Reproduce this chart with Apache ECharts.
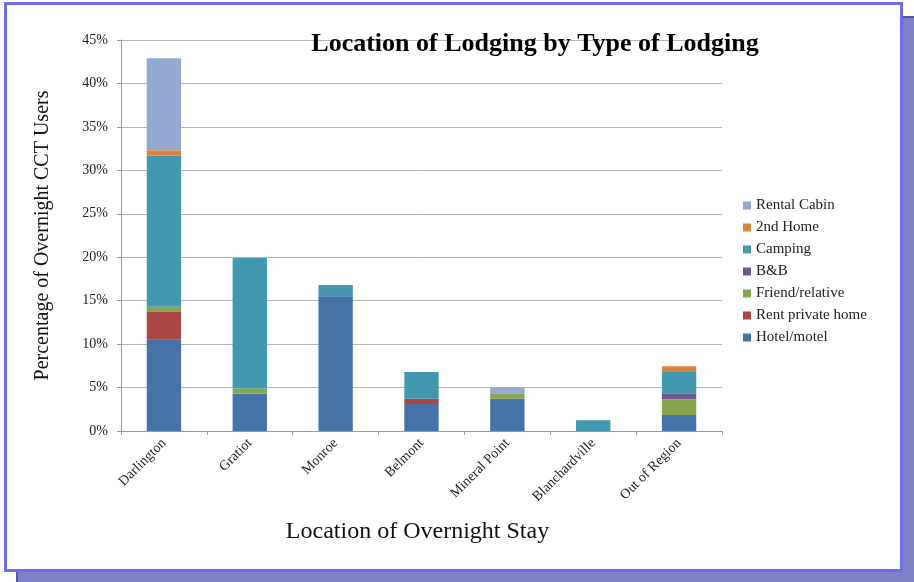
<!DOCTYPE html>
<html>
<head>
<meta charset="utf-8">
<script src="https://cdn.jsdelivr.net/npm/echarts@6/dist/echarts.min.js"></script>
<style>html,body{margin:0;padding:0;background:#fff}#c{width:914px;height:582px}</style>
</head>
<body>
<div id="c"></div>
<script>
const categories = ['Darlington','Gratiot','Monroe','Belmont','Mineral Point','Blanchardville','Out of Region'];
const hotelMotel = [10.5, 4.3, 15.5, 3.1, 3.7, 0, 1.85];
const rentPrivateHome = [3.2, 0, 0, 0.6, 0, 0, 0];
const friendRelative = [0.6, 0.6, 0, 0, 0.65, 0, 1.8];
const bAndB = [0, 0, 0, 0, 0, 0, 0.7];
const camping = [17.4, 15.0, 1.3, 3.1, 0, 1.23, 2.45];
const secondHome = [0.6, 0, 0, 0, 0, 0, 0.65];
const rentalCabin = [10.6, 0, 0, 0, 0.65, 0, 0];
const yTicks = {min: 0, max: 45, interval: 5};

const seriesDefs = [
  ['Hotel/motel', hotelMotel, '#4572a7'],
  ['Rent private home', rentPrivateHome, '#aa4643'],
  ['Friend/relative', friendRelative, '#89a54e'],
  ['B&B', bAndB, '#71588f'],
  ['Camping', camping, '#4198af'],
  ['2nd Home', secondHome, '#db843d'],
  ['Rental Cabin', rentalCabin, '#93a9cf']
];
const serif = '"Liberation Serif", "DejaVu Serif", serif';

const chart = echarts.init(document.getElementById('c'), null, {renderer: 'canvas'});
chart.setOption({
  backgroundColor: '#ffffff',
  animation: false,
  graphic: [
    {type: 'rect', z: -10, shape: {x: 17, y: 17, width: 900, height: 570}, style: {fill: '#8080c4', stroke: '#5656a8', lineWidth: 2}, silent: true},
    {type: 'rect', z: -9, shape: {x: 5.5, y: 3.5, width: 896, height: 567}, style: {fill: '#ffffff', stroke: '#6b6bf5', lineWidth: 3}, silent: true}
  ],
  title: {
    text: 'Location of Lodging by Type of Lodging',
    left: 530, top: 26, textAlign: 'center',
    textStyle: {fontFamily: serif, fontWeight: 'bold', fontSize: 26, color: '#000'}
  },
  legend: {
    orient: 'vertical', left: 738, top: 193,
    itemWidth: 8, itemHeight: 8, itemGap: 7,
    icon: 'rect',
    data: seriesDefs.map(s => s[0]).reverse(),
    textStyle: {fontFamily: serif, fontSize: 15, color: '#222'}
  },
  grid: {left: 121, right: 192, top: 40, bottom: 151, containLabel: false},
  xAxis: {
    type: 'category', data: categories,
    name: 'Location of Overnight Stay', nameLocation: 'middle', nameGap: 89,
    nameTextStyle: {fontFamily: serif, fontSize: 24, color: '#111', padding: [0, 8, 0, 0]},
    axisLine: {lineStyle: {color: '#999'}},
    axisTick: {show: true, alignWithLabel: false, length: 4, lineStyle: {color: '#999'}},
    axisLabel: {rotate: 45, interval: 0, fontFamily: serif, fontSize: 14, color: '#222', margin: 10}
  },
  yAxis: {
    type: 'value', min: yTicks.min, max: yTicks.max, interval: yTicks.interval,
    name: 'Percentage of Overnight CCT Users', nameLocation: 'middle', nameGap: 68, nameRotate: 90,
    nameTextStyle: {fontFamily: serif, fontSize: 20, color: '#111'},
    axisLine: {show: true, lineStyle: {color: '#999'}},
    axisTick: {show: true, length: 4, lineStyle: {color: '#999'}},
    splitLine: {lineStyle: {color: '#b4b4b4'}},
    axisLabel: {formatter: '{value}%', fontFamily: serif, fontSize: 14, color: '#222', margin: 13}
  },
  series: seriesDefs.map(([name, data, color]) => ({
    name, type: 'bar', stack: 'total', data, barWidth: '40%',
    itemStyle: {color},
    emphasis: {disabled: true}
  }))
});
</script>
</body>
</html>
